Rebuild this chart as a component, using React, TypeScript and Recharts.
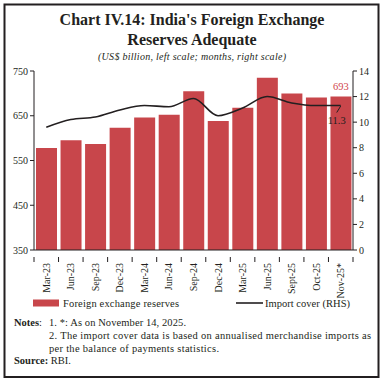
import React from "react";
import { ComposedChart, Bar, Line, XAxis, YAxis, LabelList } from "recharts";

const categories = ["Mar-23", "Jun-23", "Sep-23", "Dec-23", "Mar-24", "Jun-24", "Sep-24", "Dec-24", "Mar-25", "Jun-25", "Sept-25", "Oct-25", "Nov-25*"];
const reserves = [578, 595, 587, 623, 646, 652, 705, 638, 668, 735, 700, 691, 693];
const importCover = [9.6, 10.2, 10.4, 10.95, 11.3, 11.2, 11.85, 10.5, 11.1, 12.0, 11.5, 11.3, 11.3];
const leftTicks = [350, 450, 550, 650, 750];
const rightTicks = [0, 2, 4, 6, 8, 10, 12, 14];

const data = categories.map((c, i) => ({ cat: c, res: reserves[i], cover: importCover[i] }));

const INK = "#231f20";
const RED = "#c8464b";
const FONT = "'Liberation Serif', serif";

const XTick = (props: any) => {
  const { x, y, payload, index } = props;
  const off = payload && typeof payload.offset === "number" ? payload.offset : 12.27;
  const last = index === categories.length - 1;
  return (
    <g>
      <line x1={x - off} y1={y - 1} x2={x - off} y2={y + 4} stroke={INK} strokeWidth={1} />
      {last && <line x1={x + off} y1={y - 1} x2={x + off} y2={y + 4} stroke={INK} strokeWidth={1} />}
      <text
        x={x}
        y={y + 5}
        transform={`rotate(-90 ${x} ${y + 5})`}
        textAnchor="end"
        dominantBaseline="central"
        fontSize={10}
        fontFamily={FONT}
        fill={INK}
      >
        {payload.value}
      </text>
    </g>
  );
};

const BarLabel = (props: any) => {
  const { x, y, width, index, value } = props;
  if (index !== reserves.length - 1) return null;
  return (
    <text x={x + width / 2} y={y - 7} textAnchor="middle" fontSize={10.5} fontFamily={FONT} fill="#d0454b">
      {value}
    </text>
  );
};

const LineLabel = (props: any) => {
  const { x, y, index, value } = props;
  if (index !== importCover.length - 1) return null;
  return (
    <g>
      <line x1={x - 4} y1={y + 7} x2={x} y2={y + 0.5} stroke={INK} strokeWidth={1} />
      <text x={x - 4} y={y + 18} textAnchor="middle" fontSize={10.5} fontFamily={FONT} fill={INK}>
        {value}
      </text>
    </g>
  );
};

export default function App() {
  return (
    <div style={{ position: "absolute", left: 0, top: 0, width: 384, height: 384, background: "#fff" }}>
      <ComposedChart
        width={384}
        height={384}
        data={data}
        margin={{ top: 71, left: 4, right: 5, bottom: 114 }}
      >
        <XAxis
          dataKey="cat"
          height={20}
          interval={0}
          tickLine={false}
          axisLine={{ stroke: INK, strokeWidth: 1 }}
          tick={<XTick />}
        />
        <YAxis
          yAxisId="left"
          orientation="left"
          width={30}
          domain={[350, 750]}
          ticks={leftTicks}
          interval={0}
          tickSize={4}
          axisLine={{ stroke: INK, strokeWidth: 1 }}
          tickLine={{ stroke: INK }}
          tick={{ fontSize: 10, fontFamily: FONT, fill: INK }}
          tickMargin={2}
        />
        <YAxis
          yAxisId="right"
          orientation="right"
          width={26}
          domain={[0, 14]}
          ticks={rightTicks}
          interval={0}
          tickSize={4}
          axisLine={{ stroke: INK, strokeWidth: 1 }}
          tickLine={{ stroke: INK }}
          tick={{ fontSize: 10, fontFamily: FONT, fill: INK }}
          tickMargin={2}
        />
        <Bar yAxisId="left" dataKey="res" fill={RED} barSize={21} isAnimationActive={false}>
          <LabelList dataKey="res" content={<BarLabel />} />
        </Bar>
        <Line
          yAxisId="right"
          dataKey="cover"
          type="monotone"
          stroke={INK}
          strokeWidth={1.6}
          dot={false}
          isAnimationActive={false}
        >
          <LabelList dataKey="cover" content={<LineLabel />} />
        </Line>
      </ComposedChart>
      <svg
        width={384}
        height={384}
        style={{ position: "absolute", left: 0, top: 0, pointerEvents: "none" }}
      >
        <rect x={4.5} y={4.5} width={374} height={372.5} fill="none" stroke={INK} strokeWidth={2} />
        <text x={192} y={25} textAnchor="middle" fontSize={16} fontWeight="bold" fontFamily={FONT} fill={INK}>
          Chart IV.14: India's Foreign Exchange
        </text>
        <text x={192} y={45} textAnchor="middle" fontSize={16} fontWeight="bold" fontFamily={FONT} fill={INK}>
          Reserves Adequate
        </text>
        <text x={192} y={60} textAnchor="middle" fontSize={10} fontStyle="italic" fontFamily={FONT} fill={INK} textLength={188} lengthAdjust="spacing">
          (US$ billion, left scale; months, right scale)
        </text>
        <rect x={33} y={299.5} width={26} height={7} fill={RED} />
        <text x={63} y={306.5} fontSize={10.5} fontFamily={FONT} fill={INK} textLength={116} lengthAdjust="spacing">
          Foreign exchange reserves
        </text>
        <line x1={236} y1={303} x2={263} y2={303} stroke={INK} strokeWidth={1.6} />
        <text x={265} y={306.5} fontSize={10.5} fontFamily={FONT} fill={INK} textLength={85} lengthAdjust="spacing">
          Import cover (RHS)
        </text>
        <text x={14} y={326} fontSize={10.5} fontFamily={FONT} fill={INK}>
          <tspan fontWeight="bold">Notes</tspan>:
        </text>
        <text x={49} y={326} fontSize={10.5} fontFamily={FONT} fill={INK} textLength={137} lengthAdjust="spacing">
          1. *: As on November 14, 2025.
        </text>
        <text x={49} y={339} fontSize={10.5} fontFamily={FONT} fill={INK} textLength={322} lengthAdjust="spacing">
          2.  The import cover data is based on annualised merchandise imports as
        </text>
        <text x={49} y={352} fontSize={10.5} fontFamily={FONT} fill={INK} textLength={170} lengthAdjust="spacing">
          per the balance of payments statistics.
        </text>
        <text x={14} y={364} fontSize={10.5} fontFamily={FONT} fill={INK}>
          <tspan fontWeight="bold">Source:</tspan> RBI.
        </text>
      </svg>
    </div>
  );
}
